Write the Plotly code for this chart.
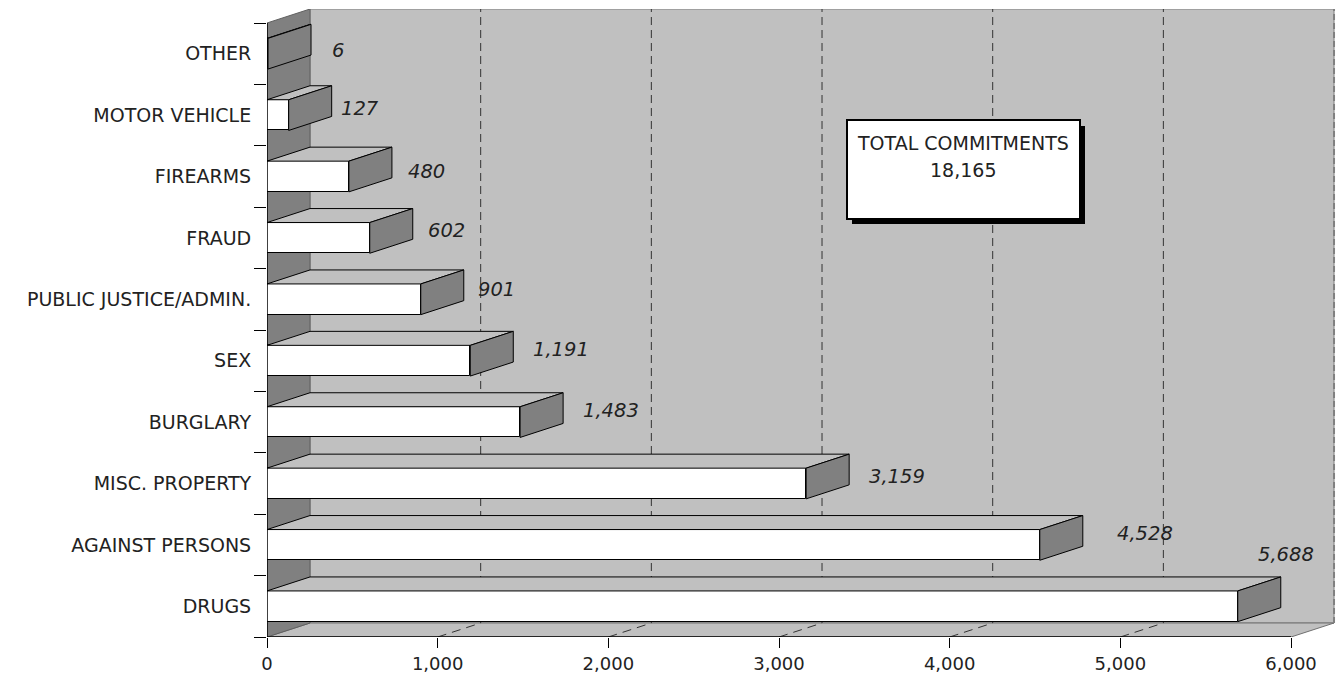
import plotly.graph_objects as go

categories = ["DRUGS", "AGAINST PERSONS", "MISC. PROPERTY", "BURGLARY", "SEX",
              "PUBLIC JUSTICE/ADMIN.", "FRAUD", "FIREARMS", "MOTOR VEHICLE", "OTHER"]
values = [5688, 4528, 3159, 1483, 1191, 901, 602, 480, 127, 6]
x_ticks = [0, 1000, 2000, 3000, 4000, 5000, 6000]
x_tick_labels = ["0", "1,000", "2,000", "3,000", "4,000", "5,000", "6,000"]
box_title = "TOTAL COMMITMENTS"
box_total = "18,165"

# label placement relative to bar end (pixels)
label_dx = [48, 105, 91, 91, 91, 76, 77, 78, 71, 70]
label_dy = [52, 11, 7, 12, 11, 10, 7, 5, 7, 3]

FONT = "DejaVu Sans"
DX, DY = 252, 0.228   # 3-D depth in axis units
HALF = 0.25
YMIN, YMAX = -0.5, 9.5
n = len(categories)
ys = list(range(n))

shapes = []
def poly(xs, yvals, fill, line="rgba(0,0,0,0)", w=1):
    path = "M" + " L".join(f"{a},{b}" for a, b in zip(xs, yvals)) + " Z"
    shapes.append(dict(type="path", path=path, xref="x", yref="y", fillcolor=fill,
                       line=dict(color=line, width=w), layer="below"))
def seg(x0, y0, x1, y1, color="#000000", w=1, dash="solid", layer="below"):
    shapes.append(dict(type="line", x0=x0, y0=y0, x1=x1, y1=y1, xref="x", yref="y",
                       line=dict(color=color, width=w, dash=dash), layer=layer))

xmax = x_ticks[-1]
# back wall, floor, left wall
poly([DX, xmax + DX, xmax + DX, DX], [YMIN + DY, YMIN + DY, YMAX + DY, YMAX + DY], "#c0c0c0", "#808080", 1)
poly([0, xmax, xmax + DX, DX], [YMIN, YMIN, YMIN + DY, YMIN + DY], "#c0c0c0", "#707070", 1)
poly([0, DX, DX, 0], [YMIN, YMIN + DY, YMAX + DY, YMAX], "#808080", "#606060", 1)
# dashed gridlines
for t in x_ticks[1:-1]:
    seg(t + DX, YMIN + DY, t + DX, YMAX + DY, "#333333", 1, "8px,5px")
    seg(t, YMIN, t + DX, YMIN + DY, "#333333", 1, "9px,6px")
seg(xmax + DX, YMIN + DY, xmax + DX, YMAX + DY, "#808080", 2, "6px,3px")

fig = go.Figure()
# front faces
fig.add_trace(go.Bar(y=ys, x=values, orientation="h", width=2 * HALF,
                     marker=dict(color="#ffffff", line=dict(color="#000000", width=1)),
                     hoverinfo="skip", showlegend=False))
# top and side faces
for y, v in zip(ys, values):
    fig.add_trace(go.Scatter(x=[0, v, v + DX, DX, 0],
                             y=[y + HALF, y + HALF, y + HALF + DY, y + HALF + DY, y + HALF],
                             mode="lines", fill="toself", fillcolor="#c0c0c0",
                             line=dict(color="#000000", width=1), hoverinfo="skip", showlegend=False))
    fig.add_trace(go.Scatter(x=[v, v + DX, v + DX, v, v],
                             y=[y - HALF, y - HALF + DY, y + HALF + DY, y + HALF, y - HALF],
                             mode="lines", fill="toself", fillcolor="#808080",
                             line=dict(color="#000000", width=1), hoverinfo="skip", showlegend=False))

annotations = []
for y, v, dx, dy in zip(ys, values, label_dx, label_dy):
    annotations.append(dict(x=v, y=y, xref="x", yref="y", text=f"<i>{v:,}</i>", showarrow=False,
                            xanchor="center", yanchor="middle",
                            xshift=dx, yshift=dy, font=dict(family=FONT, size=19.5, color="#222222")))
L, T = 267, 9
W, H = 1069, 628
def px(x): return (x - L) / W
def py(y): return 1 - (y - T) / H
annotations.append(dict(x=px(963), y=py(143), xref="paper", yref="paper", text=box_title, showarrow=False,
                        xanchor="center", yanchor="middle", font=dict(family=FONT, size=19, color="#222222")))
annotations.append(dict(x=px(963), y=py(170), xref="paper", yref="paper", text=box_total, showarrow=False,
                        xanchor="center", yanchor="middle", font=dict(family=FONT, size=19, color="#222222")))

# axis lines
seg(0, YMIN, 0, YMAX, "#000000", 1.5, "solid", "above")
seg(0, YMIN, xmax, YMIN, "#000000", 1.5, "solid", "above")
# callout
shapes.append(dict(type="rect", xref="paper", yref="paper", x0=px(852), x1=px(1085), y0=py(224), y1=py(126),
                   fillcolor="#000000", line=dict(width=0), layer="above"))
shapes.append(dict(type="rect", xref="paper", yref="paper", x0=px(847), x1=px(1080), y0=py(219), y1=py(120),
                   fillcolor="#ffffff", line=dict(color="#000000", width=2), layer="above"))

fig.update_layout(
    width=1336, height=675, margin=dict(l=L, r=0, t=T, b=38, pad=0, autoexpand=False),
    paper_bgcolor="#ffffff", plot_bgcolor="#ffffff", bargap=0, shapes=shapes, annotations=annotations,
    xaxis=dict(range=[0, W / 170.67 * 1000], tickvals=x_ticks, ticktext=x_tick_labels, ticks="outside",
               ticklen=10, tickcolor="#000000", showgrid=False, zeroline=False, showline=False,
               ticklabelstandoff=0, tickfont=dict(family=FONT, size=18, color="#222222")),
    yaxis=dict(range=[YMIN, YMAX + DY], tickvals=ys, ticktext=categories, ticks="outside", ticklen=8,
               tickcolor="rgba(0,0,0,0)", ticklabelstandoff=3, showgrid=False, zeroline=False, showline=False,
               tickfont=dict(family=FONT, size=19, color="#222222"),
               minor=dict(tickvals=[i - 0.5 for i in range(n + 1)], ticks="outside", ticklen=12,
                          tickcolor="#000000", showgrid=False)),
)
fig.write_html("out.html", config={"displayModeBar": False},
               post_script="document.body.style.margin='0';document.body.style.overflow='hidden';")
